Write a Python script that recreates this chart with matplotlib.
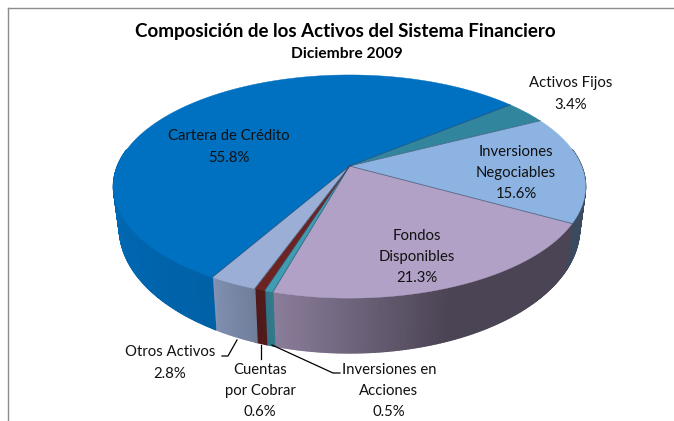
import numpy as np
import matplotlib
matplotlib.use("Agg")
import matplotlib.pyplot as plt
from matplotlib.collections import PolyCollection
from matplotlib.colors import to_rgb

categories = ["Activos Fijos", "Inversiones\nNegociables", "Fondos\nDisponibles",
              "Inversiones en\nAcciones", "Cuentas\npor Cobrar", "Otros Activos", "Cartera de Crédito"]
values = [3.4, 15.6, 21.3, 0.5, 0.6, 2.8, 55.8]
colors = ["#31859C", "#8DB3E2", "#B2A1C7", "#3F9DB3", "#6E2323", "#9BAED6", "#0070C0"]
label_xy = [(571, 94), (516, 173), (417, 257), (389, 391), (260, 391), (170, 363), (229, 147)]
title = "Composición de los Activos del Sistema Financiero"
subtitle = "Diciembre 2009"

plt.rcParams["font.family"] = ["Lato", "DejaVu Sans"]
fig = plt.figure(figsize=(6.74, 4.21), dpi=100, facecolor="white")
ax = fig.add_axes([0, 0, 1, 1])
ax.set_xlim(0, 674)
ax.set_ylim(421, 0)
ax.axis("off")

CX, CY, A, B, K = 349.5, 166.0, 232.0, 107.8, 0.184
START = 39.3


def rim(t):
    s, c = np.sin(t), np.cos(t)
    return A * c / (1 + K * s), -B * s / (1 + K * s)


def top_pts(t):
    x, y = rim(t)
    return CX + x, CY + y


def low_pts(t):
    x, y = rim(t)
    return CX + 0.975 * x, CY + 1.12 * y + 39


def shade(x):
    return np.interp(x, [113, 213, 214, 255, 272, 450, 600],
                     [0.92, 0.86, 0.82, 0.72, 0.78, 0.42, 0.42])


edges = START - np.concatenate([[0], np.cumsum(values)]) * 3.6
strips, strip_cols = [], []
for i, col in enumerate(colors):
    rgb = np.array(to_rgb(col))
    th = np.radians(np.arange(edges[i], edges[i + 1] - 0.5, -0.5))
    th = np.append(th, np.radians(edges[i + 1]))
    for a, b in zip(th[:-1], th[1:]):
        if np.sin(a) > 0.15 and np.sin(b) > 0.15:
            continue
        xa, ya = top_pts(a); xb, yb = top_pts(b)
        xc, yc = low_pts(b); xd, yd = low_pts(a)
        strips.append([(xa, ya), (xb, yb), (xc, yc), (xd, yd)])
        strip_cols.append(rgb * shade((xa + xb) / 2))
ax.add_collection(PolyCollection(strips, facecolors=strip_cols, edgecolors=strip_cols,
                                 linewidths=1.0, zorder=1))

for i, col in enumerate(colors):
    th = np.radians(np.linspace(edges[i], edges[i + 1], 200))
    xs, ys = top_pts(th)
    xs = np.concatenate([[CX], xs]); ys = np.concatenate([[CY], ys])
    ax.fill(xs, ys, facecolor=col, edgecolor=col, lw=0.3, zorder=2)
    ax.plot([CX, xs[1]], [CY, ys[1]], color="#2b4a66", lw=0.6, alpha=0.7, zorder=3)

for name, v, (x, y) in zip(categories, values, label_xy):
    ax.text(x, y, f"{name}\n{v:.1f}%", ha="center", va="center", fontsize=10.7,
            color="#111111", linespacing=1.65, zorder=5)

ax.text(345, 31, title, ha="center", va="center", fontsize=13.5, fontweight="bold", color="black")
ax.text(347, 54, subtitle, ha="center", va="center", fontsize=11.2, fontweight="bold", color="black")

ax.plot([222, 228, 237], [356, 356, 340], color="black", lw=0.9, zorder=4)
ax.plot([261, 261], [345, 359], color="black", lw=0.9, zorder=4)
ax.plot([272, 333, 340], [345, 373, 373], color="black", lw=0.9, zorder=4)

ax.plot([7.5, 7.5], [421, 7.5], color="#8c8c8c", lw=1.0, zorder=0)
ax.plot([7.5, 674], [7.5, 7.5], color="#8c8c8c", lw=1.0, zorder=0)

fig.savefig("out.png", dpi=100, facecolor="white")
